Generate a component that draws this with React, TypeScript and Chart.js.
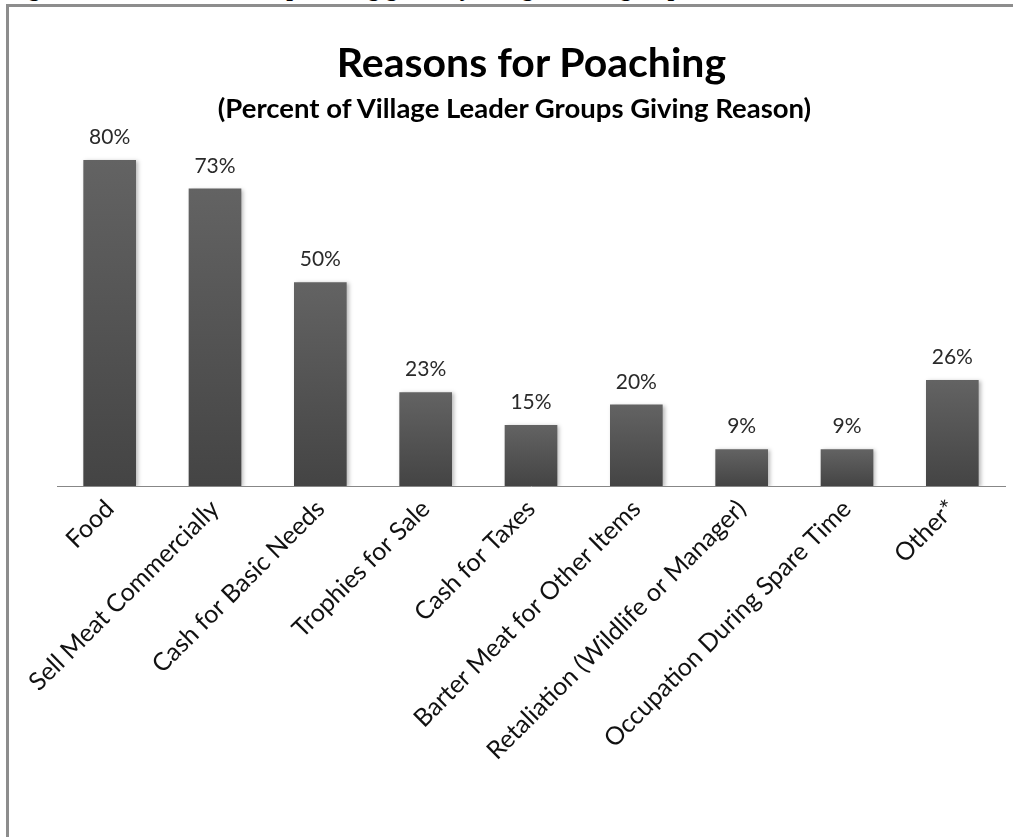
import React, { useEffect, useRef } from "react";
import { Chart, registerables } from "chart.js";

Chart.register(...registerables);

const categories = [
  "Food",
  "Sell Meat Commercially",
  "Cash for Basic Needs",
  "Trophies for Sale",
  "Cash for Taxes",
  "Barter Meat for Other Items",
  "Retaliation (Wildlife or Manager)",
  "Occupation During Spare Time",
  "Other*",
];
const percentGiving = [80, 73, 50, 23, 15, 20, 9, 9, 26];

const chartTitle = "Reasons for Poaching";
const chartSubtitle = "(Percent of Village Leader Groups Giving Reason)";
const figureCaption = "Figure 3: Main reasons for poaching given by village leader groups";

const W = 1013;
const H = 837;
const AXIS_Y = 486;

// Soft drop shadow behind the bars
const barShadow = {
  id: "barShadow",
  beforeDatasetDraw(chart: any) {
    const c = chart.ctx;
    c.save();
    c.shadowColor = "rgba(0,0,0,0.28)";
    c.shadowBlur = 4;
    c.shadowOffsetX = 2;
    c.shadowOffsetY = 1;
  },
  afterDatasetDraw(chart: any) {
    chart.ctx.restore();
  },
};

// Percent labels above each bar
const valueLabels = {
  id: "valueLabels",
  afterDatasetsDraw(chart: any) {
    const c = chart.ctx;
    const meta = chart.getDatasetMeta(0);
    c.save();
    c.font = "400 21px Lato";
    c.fillStyle = "#2a2a2a";
    c.textAlign = "center";
    c.textBaseline = "alphabetic";
    meta.data.forEach((bar: any, i: number) => {
      c.fillText(`${percentGiving[i]}%`, bar.x, bar.y - 16);
    });
    c.restore();
  },
};

export default function App() {
  const canvasRef = useRef<HTMLCanvasElement | null>(null);

  useEffect(() => {
    const canvas = canvasRef.current;
    if (!canvas) return;
    const chart = new Chart(canvas, {
      type: "bar",
      data: {
        labels: categories,
        datasets: [
          {
            data: percentGiving,
            barPercentage: 0.5,
            categoryPercentage: 1,
            borderWidth: 0,
            backgroundColor: (ctx: any) => {
              const ch = ctx.chart;
              const y = ch.scales && ch.scales.y;
              if (!y || ctx.type !== "data") return "#555555";
              const top = y.getPixelForValue(ctx.raw);
              const bottom = y.getPixelForValue(0);
              if (!isFinite(top) || !isFinite(bottom) || bottom - top < 1) return "#555555";
              const g = ch.ctx.createLinearGradient(0, top, 0, bottom);
              g.addColorStop(0, "#636363");
              g.addColorStop(1, "#444444");
              return g;
            },
          },
        ],
      },
      options: {
        responsive: false,
        animation: false,
        devicePixelRatio: 1,
        layout: { padding: { top: 78.5, left: 57, right: 8, bottom: 0 } },
        plugins: {
          legend: { display: false },
          tooltip: { enabled: false },
          title: { display: false },
        },
        scales: {
          y: { display: false, min: 0, max: 100 },
          x: {
            grid: { display: false },
            border: { display: true, color: "#878787", width: 1 },
            ticks: {
              autoSkip: false,
              minRotation: 45,
              maxRotation: 45,
              color: "#111111",
              padding: 0,
              font: { family: "Lato", size: 25 },
            },
            afterFit: (scale: any) => {
              scale.height = H - AXIS_Y;
            },
          },
        },
      },
      plugins: [barShadow, valueLabels],
    });
    return () => chart.destroy();
  }, []);

  return (
    <div
      style={{
        position: "absolute",
        left: 0,
        top: 0,
        width: W,
        height: H,
        overflow: "hidden",
        background: "#ffffff",
      }}
    >
      <div
        style={{
          position: "absolute",
          left: 7,
          top: -24,
          whiteSpace: "nowrap",
          font: "bold 24px 'Liberation Serif', serif",
          lineHeight: "24px",
          color: "#000",
        }}
      >
        {figureCaption}
      </div>
      <div
        style={{
          position: "absolute",
          left: 6,
          top: 4,
          width: W + 20,
          height: H + 20,
          borderTop: "3px solid #8d8d8d",
          borderLeft: "3px solid #8d8d8d",
          background: "#ffffff",
        }}
      />
      <canvas
        ref={canvasRef}
        width={W}
        height={H}
        style={{ position: "absolute", left: 0, top: 0, width: W, height: H }}
      />
      <div
        style={{
          position: "absolute",
          left: 0,
          width: W,
          top: 37,
          textAlign: "center",
          paddingLeft: 50,
          boxSizing: "border-box",
          font: "bold 41px Lato",
          lineHeight: "50px",
          color: "#000",
        }}
      >
        {chartTitle}
      </div>
      <div
        style={{
          position: "absolute",
          left: 0,
          width: W,
          top: 91,
          textAlign: "center",
          paddingLeft: 16,
          boxSizing: "border-box",
          font: "bold 27.5px Lato",
          lineHeight: "34px",
          color: "#000",
        }}
      >
        {chartSubtitle}
      </div>
    </div>
  );
}
